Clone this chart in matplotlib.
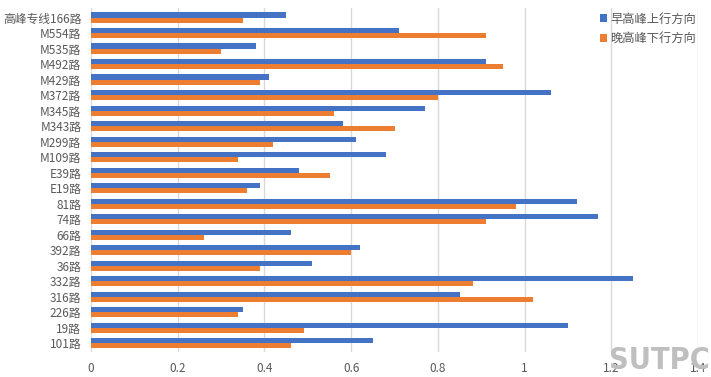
import matplotlib.pyplot as plt
import numpy as np

plt.rcParams['font.family'] = ['Noto Sans CJK SC', 'DejaVu Sans']

routes = ["101路", "19路", "226路", "316路", "332路", "36路", "392路", "66路",
          "74路", "81路", "E19路", "E39路", "M109路", "M299路", "M343路",
          "M345路", "M372路", "M429路", "M492路", "M535路", "M554路", "高峰专线166路"]
morning_up = [0.65, 1.10, 0.35, 0.85, 1.25, 0.51, 0.62, 0.46,
              1.17, 1.12, 0.39, 0.48, 0.68, 0.61, 0.58,
              0.77, 1.06, 0.41, 0.91, 0.38, 0.71, 0.45]
evening_down = [0.46, 0.49, 0.34, 1.02, 0.88, 0.39, 0.60, 0.26,
                0.91, 0.98, 0.36, 0.55, 0.34, 0.42, 0.70,
                0.56, 0.80, 0.39, 0.95, 0.30, 0.91, 0.35]
series_names = ["早高峰上行方向", "晚高峰下行方向"]

blue = "#4472C4"
orange = "#ED7D31"
grey = "#595959"

fig, ax = plt.subplots(figsize=(7.11, 3.77), dpi=100)
fig.subplots_adjust(left=0.128, right=0.982, top=0.978, bottom=0.065)

y = np.arange(len(routes))
h = 0.33
ax.barh(y + h / 2, morning_up, height=h, color=blue, label=series_names[0], zorder=3)
ax.barh(y - h / 2, evening_down, height=h, color=orange, label=series_names[1], zorder=3)

ax.set_xlim(0, 1.4)
ax.set_ylim(-0.6, len(routes) - 0.4)
ax.set_xticks(np.arange(0, 1.41, 0.2))
ax.set_xticklabels(["0", "0.2", "0.4", "0.6", "0.8", "1", "1.2", "1.4"])
ax.set_yticks(y)
ax.set_yticklabels(routes)
ax.tick_params(axis="both", length=0, labelsize=8.5, colors=grey)
ax.tick_params(axis="y", pad=7)
ax.tick_params(axis="x", pad=7)
ax.xaxis.grid(True, color="#D9D9D9", linewidth=1, zorder=0)
for s in ax.spines.values():
    s.set_visible(False)

ax.legend(loc="upper right", bbox_to_anchor=(1.015, 1.02), frameon=False, fontsize=8.8,
          handlelength=0.6, handleheight=0.6, handletextpad=0.3, labelcolor=grey,
          labelspacing=0.55)

# watermark in the bottom right corner
fig.text(0.998, 0.005, "SUTPC", ha="right", va="bottom", fontsize=22,
         fontweight="bold", color="#BFBFBF", family=["DejaVu Sans"],
         fontstretch="condensed", zorder=0)

fig.savefig("out.png", dpi=100)
